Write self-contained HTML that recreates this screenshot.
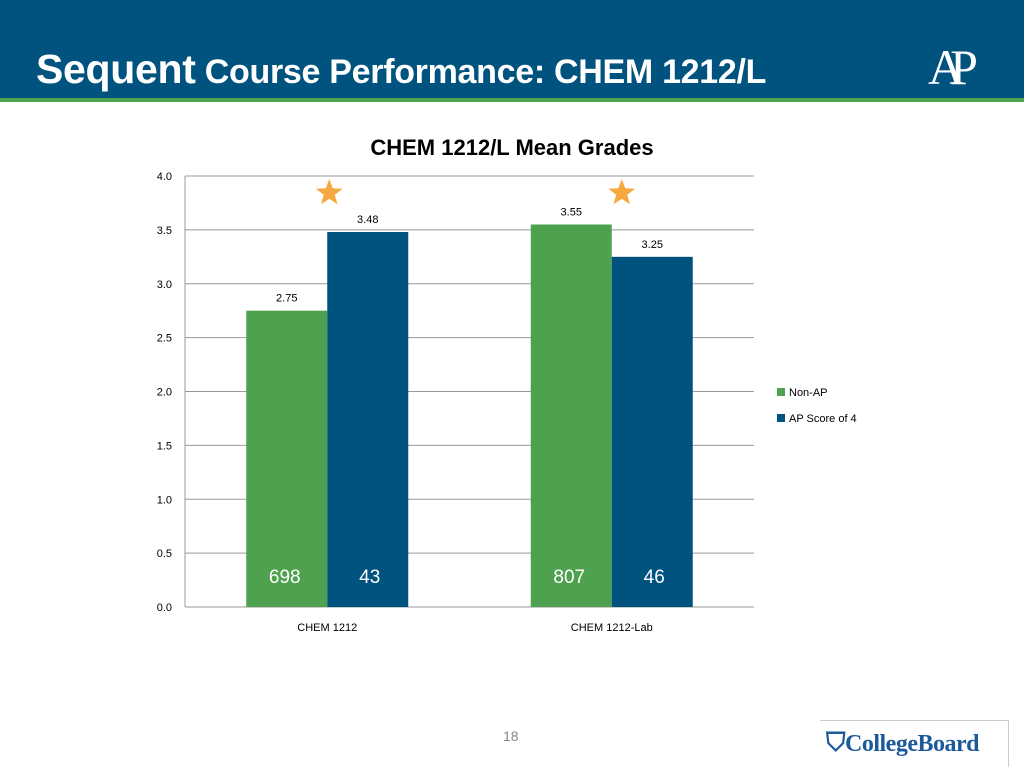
<!DOCTYPE html>
<html><head><meta charset="utf-8"><style>
body{margin:0;width:1024px;height:768px;background:#fff;position:relative;overflow:hidden;font-family:"Liberation Sans",sans-serif}
#hdr{position:absolute;left:0;top:0;width:1024px;height:98px;background:#00527f}
#grn{position:absolute;left:0;top:98px;width:1024px;height:4px;background:#4ea24f}
#title{position:absolute;left:36px;top:46px;color:#fff;font-weight:bold;font-size:34px;font-family:"Liberation Sans Narrow","Liberation Sans",sans-serif;letter-spacing:-0.3px;white-space:nowrap}
#ap{position:absolute;left:928px;top:38px;color:#fff;font-family:"Liberation Serif",serif;font-size:50px;letter-spacing:-14px}
#pg{position:absolute;left:503px;top:728px;color:#888;font-size:14px}
#cb{position:absolute;left:820px;top:720px;width:188px;height:46px;border-top:1px solid #ccc;border-right:1px solid #ccc}
#cbt{position:absolute;left:826px;top:728px;color:#1c5a9c;font-weight:bold;font-size:24px;font-family:"Liberation Serif",serif;letter-spacing:-0.5px}
</style></head><body>
<div id="hdr"></div>
<div id="grn"></div>
<div id="title"><span style="font-size:41px">Sequent</span> Course Performance: CHEM 1212/L</div>
<div id="ap">AP</div>
<svg id="chart" width="1024" height="768" style="position:absolute;left:0;top:0"></svg>
<div id="pg">18</div>
<div id="cb"></div>
<div id="cbt"><span style="font-size:26px">⛉</span>CollegeBoard</div>
<script>
const categories=["CHEM 1212","CHEM 1212-Lab"];
const nonAP=[2.75,3.55];
const apScore4=[3.48,3.25];
const nonAPCounts=["698","807"];
const apCounts=["43","46"];
const ticks=[0,0.5,1,1.5,2,2.5,3,3.5,4];
const svg=document.getElementById('chart');
const NS="http://www.w3.org/2000/svg";
const X0=185,X1=754,Y0=607,Y1=176;
const y=v=>Y0-(v/4)*(Y0-Y1);
const band=(X1-X0)/categories.length;
const cx=i=>X0+band*(i+0.5);
const BW=81;
function el(t,a,txt){const e=document.createElementNS(NS,t);for(const k in a)e.setAttribute(k,a[k]);if(txt!==undefined)e.textContent=txt;svg.appendChild(e);return e;}
let t=el('text',{x:512,y:155,'text-anchor':'middle','font-size':22,'font-weight':'bold',fill:'#000','font-family':'Liberation Sans Narrow, Liberation Sans, sans-serif'},'CHEM 1212/L Mean Grades');


ticks.forEach(v=>{
 const g=el('line',{x1:X0,x2:X1,y1:y(v),y2:y(v),stroke:'#999','stroke-width':1});
 
 
 const l=el('text',{x:172,y:y(v)+4,'text-anchor':'end','font-size':11,fill:'#000'},v.toFixed(1));
 
 
});
const ax=el('line',{x1:X0,x2:X0,y1:Y1,y2:Y0,stroke:'#999'});


function star(x,yy,r){let p=[];for(let k=0;k<10;k++){const a=-Math.PI/2+k*Math.PI/5,rr=k%2?r*0.42:r;p.push((x+rr*Math.cos(a)).toFixed(1)+','+(yy+rr*Math.sin(a)).toFixed(1));}return p.join(' ');}
categories.forEach((c,i)=>{
 const series=[[nonAP[i],'#4ea24f',nonAPCounts[i],-BW],[apScore4[i],'#00527f',apCounts[i],0]];
 series.forEach((s,j)=>{
  const x=cx(i)+s[3];
  const r=el('rect',{x:x,y:y(s[0]),width:BW,height:Y0-y(s[0]),fill:s[1]});
  
  
  const v=el('text',{x:x+BW/2,y:y(s[0])-9,'text-anchor':'middle','font-size':11,fill:'#000'},s[0].toFixed(2));
  
  
  const n=el('text',{x:x+BW/2+(j?2:-2),y:Y0-24,'text-anchor':'middle','font-size':19,fill:'#fff'},s[2]);
  
  
 });
 const st=el('polygon',{points:star(cx(i)+(i===0?2:10),193,14),fill:'#f7a941'});
 
 
 const cl=el('text',{x:cx(i),y:631,'text-anchor':'middle','font-size':11,fill:'#000'},c);
 
 
});
[['Non-AP','#4ea24f',392],['AP Score of 4','#00527f',418]].forEach(l=>{
 const r=el('rect',{x:777,y:l[2]-4,width:8,height:8,fill:l[1]});
 
 
 const tt=el('text',{x:789,y:l[2]+4,'font-size':11,fill:'#000'},l[0]);
 
 
});
</script>
</body></html>
